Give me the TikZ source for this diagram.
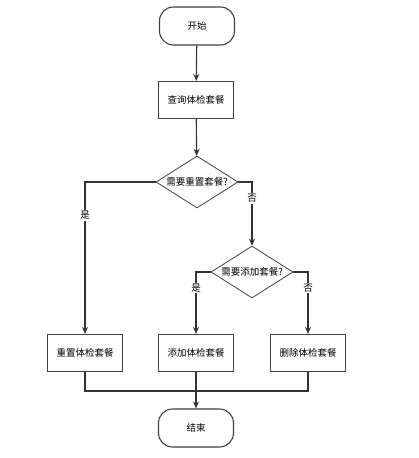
\documentclass[tikz,border=0pt]{standalone}
\usepackage{fontspec}
\setmainfont{Noto Sans CJK SC}
\usetikzlibrary{positioning, shapes.geometric, arrows.meta}

\tikzset{
  every node/.style={font=\fontsize{9.5}{11}\selectfont},
  term/.style={draw=black!75, line width=1.1pt, rectangle, rounded corners=14pt,
    minimum width=75pt, minimum height=38pt, inner sep=0pt},
  proc/.style={draw=black!75, line width=1.1pt, rectangle,
    minimum width=75pt, minimum height=37pt, inner sep=0pt},
  decision/.style={draw=black!75, line width=0.8pt, diamond, inner sep=0pt,
    minimum width=82pt, minimum height=52pt},
  flow/.style={draw=black!80, line width=1.1pt},
  arr/.style={flow, -{Stealth[length=7pt, width=6pt]}},
  yn/.style={fill=white, inner sep=1pt}
}

\begin{document}
\begin{tikzpicture}[x=1pt,y=-1pt]
\useasboundingbox (0,0) rectangle (419,458);

% Main column
\node[term] (start) at (197,26) {开始};
\node[proc] (query) at (196,100) {查询体检套餐};
\node[decision, label=center:{需要重置套餐?}] (dreset) at (197,182) {};
\node[decision, label=center:{需要添加套餐?}] (dadd) at (252,272) {};

% Bottom boxes
\node[proc] (reset) at (85,353) {重置体检套餐};
\node[proc] (add) at (196,353) {添加体检套餐};
\node[proc] (del) at (308,353) {删除体检套餐};
\node[term] (stop) at (196,428) {结束};
\coordinate (merge) at (196,391);

% Connectors
\draw[arr] (start) -- (query);
\draw[arr] (query) -- (dreset);
\draw[arr] (dreset.west) -| (reset.north) node[pos=0.61, yn] {是};
\draw[arr] (dreset.east) -| (dadd.north) node[pos=0.63, yn] {否};
\draw[arr] (dadd.west) -| (add.north) node[pos=0.63, yn] {是};
\draw[arr] (dadd.east) -| (del.north) node[pos=0.63, yn] {否};
\draw[flow] (reset.south) |- (merge) -| (del.south);
\draw[arr] (add.south) -- (stop.north);
\end{tikzpicture}
\end{document}
